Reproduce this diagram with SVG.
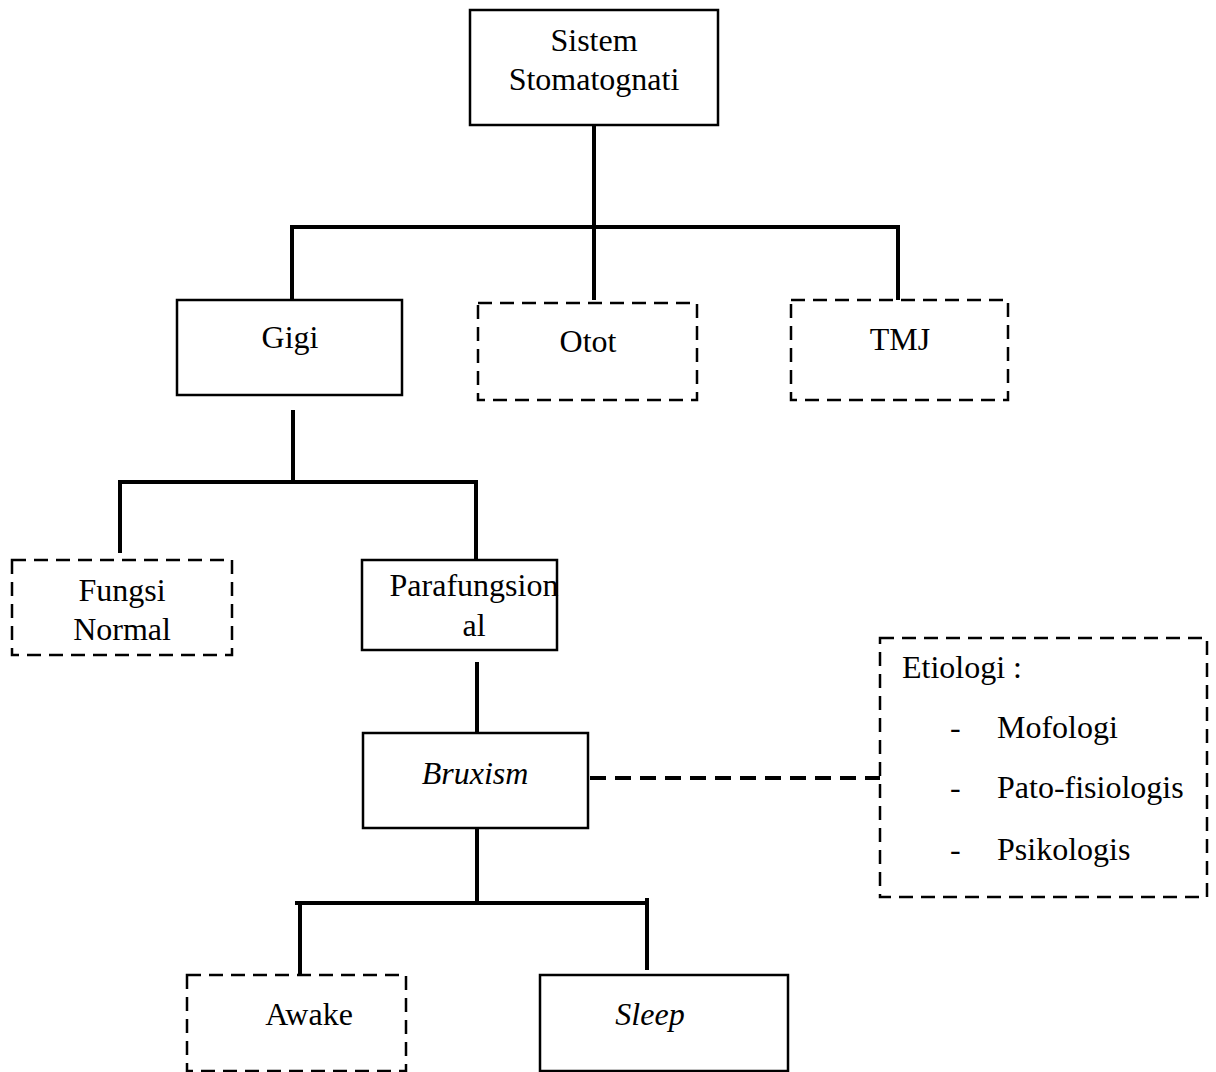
<svg xmlns="http://www.w3.org/2000/svg" width="1216" height="1072" viewBox="0 0 1216 1072">
<style>
.box{fill:#fff;stroke:#000;stroke-width:2.5}
.dash{fill:#fff;stroke:#000;stroke-width:2.5;stroke-dasharray:14 8}
.t{font-family:"Liberation Serif","Times New Roman",serif;font-size:32px;fill:#000}
.c{text-anchor:middle}
.i{font-style:italic}
.ln{stroke:#000;stroke-width:4;fill:none}
.dl{stroke:#000;stroke-width:4;fill:none;stroke-dasharray:16 9}
</style>
<rect width="1216" height="1072" fill="#fff"/>
<g id="connectors">
<line class="ln" x1="594" y1="125" x2="594" y2="229"/>
<line class="ln" x1="292" y1="227" x2="898" y2="227"/>
<line class="ln" x1="292" y1="225" x2="292" y2="300"/>
<line class="ln" x1="594" y1="227" x2="594" y2="300"/>
<line class="ln" x1="898" y1="225" x2="898" y2="300"/>
<line class="ln" x1="293" y1="410" x2="293" y2="484"/>
<line class="ln" x1="120" y1="482" x2="476" y2="482"/>
<line class="ln" x1="120" y1="480" x2="120" y2="553"/>
<line class="ln" x1="476" y1="480" x2="476" y2="560"/>
<line class="ln" x1="477" y1="662" x2="477" y2="735"/>
<line class="dl" x1="590" y1="778" x2="880" y2="778"/>
<line class="ln" x1="477" y1="828" x2="477" y2="905"/>
<line class="ln" x1="295" y1="903" x2="649" y2="903"/>
<line class="ln" x1="300" y1="901" x2="300" y2="975"/>
<line class="ln" x1="647" y1="898" x2="647" y2="970"/>
</g>
<g id="node-sistem">
<rect class="box" x="470" y="10" width="248" height="115"/>
<text class="t c" x="594" y="51">Sistem</text>
<text class="t c" x="594" y="90">Stomatognati</text>
</g>
<g id="node-gigi">
<rect class="box" x="177" y="300" width="225" height="95"/>
<text class="t c" x="290" y="348">Gigi</text>
</g>
<g id="node-otot">
<rect class="dash" x="478" y="303" width="219" height="97"/>
<text class="t c" x="588" y="352">Otot</text>
</g>
<g id="node-tmj">
<rect class="dash" x="791" y="300" width="217" height="100"/>
<text class="t c" x="900" y="350">TMJ</text>
</g>
<g id="node-fungsi">
<rect class="dash" x="12" y="560" width="220" height="95"/>
<text class="t c" x="122" y="601">Fungsi</text>
<text class="t c" x="122" y="640">Normal</text>
</g>
<g id="node-parafungsional">
<rect class="box" x="362" y="560" width="195" height="90"/>
<text class="t c" x="474" y="596">Parafungsion</text>
<text class="t c" x="474" y="636">al</text>
</g>
<g id="node-bruxism">
<rect class="box" x="363" y="733" width="225" height="95"/>
<text class="t c i" x="475" y="784">Bruxism</text>
</g>
<g id="node-etiologi">
<rect class="dash" x="880" y="638" width="327" height="259"/>
<text class="t" x="902" y="678">Etiologi :</text>
<text class="t" x="950" y="738">-</text>
<text class="t" x="997" y="738">Mofologi</text>
<text class="t" x="950" y="798">-</text>
<text class="t" x="997" y="798">Pato-fisiologis</text>
<text class="t" x="950" y="860">-</text>
<text class="t" x="997" y="860">Psikologis</text>
</g>
<g id="node-awake">
<rect class="dash" x="187" y="975" width="219" height="96"/>
<text class="t c" x="309" y="1025">Awake</text>
</g>
<g id="node-sleep">
<rect class="box" x="540" y="975" width="248" height="96"/>
<text class="t c i" x="650" y="1025">Sleep</text>
</g>
</svg>
